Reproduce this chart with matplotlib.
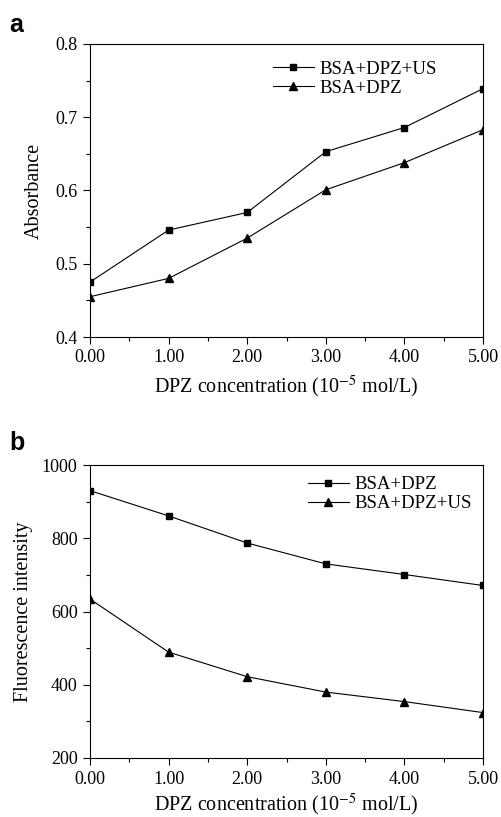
import matplotlib.pyplot as plt
from matplotlib.ticker import MultipleLocator

conc = [0, 1, 2, 3, 4, 5]
tick_labels = ['0.00', '1.00', '2.00', '3.00', '4.00', '5.00']

# panel a: absorbance
abs_us = [0.475, 0.546, 0.570, 0.653, 0.686, 0.739]
abs_dpz = [0.455, 0.480, 0.535, 0.601, 0.638, 0.683]

# panel b: fluorescence intensity
fl_dpz = [930, 861, 787, 730, 701, 671]
fl_us = [634, 489, 422, 380, 354, 324]

plt.rcParams['font.family'] = ['Liberation Serif', 'DejaVu Serif']
plt.rcParams['mathtext.fontset'] = 'stix'

fig = plt.figure(figsize=(5.01, 8.17), dpi=100)
W, H = 501, 817
ax_a = fig.add_axes([90 / W, 1 - 337 / H, 393 / W, 293 / H])
ax_b = fig.add_axes([90 / W, 1 - 758 / H, 393 / W, 293 / H])

xlabel = r'DPZ concentration (10$^{-5}$ mol/L)'

ax_a.plot(conc, abs_us, 'k-', marker='s', ms=5, lw=0.8, label='BSA+DPZ+US')
ax_a.plot(conc, abs_dpz, 'k-', marker='^', ms=5.5, lw=0.8, label='BSA+DPZ')
ax_a.set_ylim(0.4, 0.8)
ax_a.yaxis.set_major_locator(MultipleLocator(0.1))
ax_a.yaxis.set_minor_locator(MultipleLocator(0.05))
ax_a.set_ylabel('Absorbance', fontsize=14.5, labelpad=8)
ax_a.legend(loc='upper right', bbox_to_anchor=(0.902, 0.968), frameon=False,
            fontsize=13.5, handlelength=2.2, borderaxespad=0, labelspacing=0.1,
            handletextpad=0.3)

ax_b.plot(conc, fl_dpz, 'k-', marker='s', ms=5, lw=0.8, label='BSA+DPZ')
ax_b.plot(conc, fl_us, 'k-', marker='^', ms=5.5, lw=0.8, label='BSA+DPZ+US')
ax_b.set_ylim(200, 1000)
ax_b.yaxis.set_major_locator(MultipleLocator(200))
ax_b.yaxis.set_minor_locator(MultipleLocator(100))
ax_b.set_ylabel('Fluorescence intensity', fontsize=14.5, labelpad=6)
ax_b.legend(loc='upper right', bbox_to_anchor=(0.991, 0.988), frameon=False,
            fontsize=13.5, handlelength=2.2, borderaxespad=0, labelspacing=0.1,
            handletextpad=0.3)

for ax in (ax_a, ax_b):
    ax.set_xlim(0, 5)
    ax.set_xticks(conc)
    ax.set_xticklabels(tick_labels)
    ax.xaxis.set_minor_locator(MultipleLocator(0.5))
    ax.tick_params(which='major', direction='out', length=5, width=0.8,
                   labelsize=13, pad=4)
    ax.tick_params(which='minor', direction='out', length=3, width=0.8)
    for s in ax.spines.values():
        s.set_linewidth(0.8)

ax_a.set_xlabel(xlabel, fontsize=14.5, labelpad=5)
ax_b.set_xlabel(xlabel, fontsize=14.5, labelpad=3)

fig.text(9 / W, 1 - 25 / H, 'a', fontsize=18, fontweight='bold',
         family='Liberation Sans', va='center')
fig.text(9 / W, 1 - 443 / H, 'b', fontsize=18, fontweight='bold',
         family='Liberation Sans', va='center')

fig.savefig('out.png', dpi=100)
